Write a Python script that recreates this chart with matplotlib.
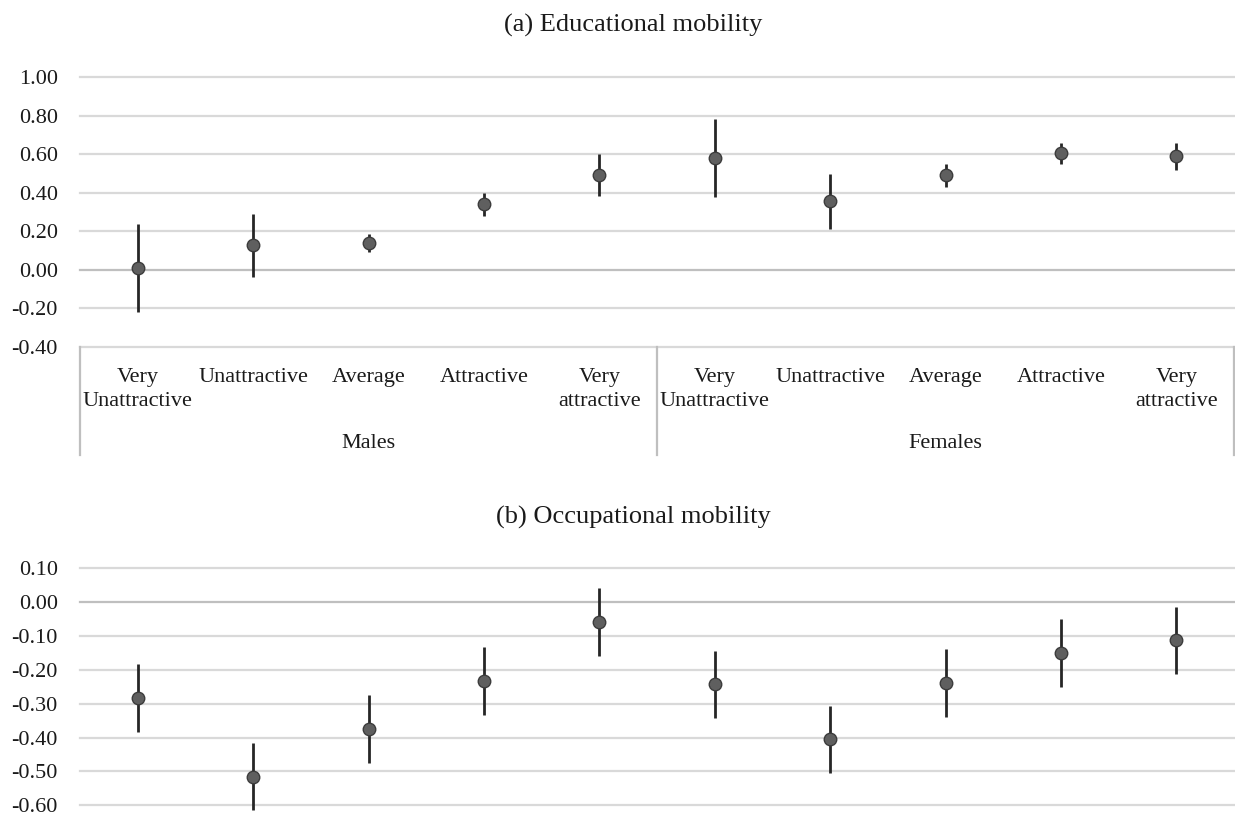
import matplotlib
matplotlib.use("Agg")
import matplotlib.pyplot as plt
import matplotlib.transforms as mtransforms

# ---------------- data ----------------
categories = ["Very\nUnattractive", "Unattractive", "Average", "Attractive", "Very\nattractive"]
groups = ["Males", "Females"]

edu_est = [0.01, 0.13, 0.14, 0.34, 0.49, 0.58, 0.355, 0.49, 0.605, 0.59]
edu_low = [-0.22, -0.035, 0.095, 0.28, 0.385, 0.378, 0.21, 0.43, 0.55, 0.52]
edu_high = [0.24, 0.29, 0.187, 0.40, 0.60, 0.78, 0.497, 0.55, 0.66, 0.66]

occ_est = [-0.284, -0.516, -0.375, -0.233, -0.058, -0.243, -0.405, -0.238, -0.149, -0.112]
occ_low = [-0.385, -0.614, -0.475, -0.333, -0.158, -0.343, -0.506, -0.338, -0.250, -0.212]
occ_high = [-0.183, -0.415, -0.275, -0.133, 0.041, -0.144, -0.306, -0.138, -0.049, -0.013]

edu_ticks = [-0.40, -0.20, 0.00, 0.20, 0.40, 0.60, 0.80, 1.00]
occ_ticks = [-0.60, -0.50, -0.40, -0.30, -0.20, -0.10, 0.00, 0.10]

title_a = "(a) Educational mobility"
title_b = "(b) Occupational mobility"

# ---------------- style ----------------
plt.rcParams['font.family'] = ['Liberation Serif', 'DejaVu Serif']
W, H = 1235, 816
fig = plt.figure(figsize=(W / 100, H / 100), dpi=100)

GRID = '#d9d9d9'
AXIS = '#bfbfbf'
MFACE = '#5f5f5f'
MEDGE = '#3c3c3c'
BAR = '#262626'
TXT = '#1a1a1a'

left_px, right_px = 80, 1234


def make_axes(top_px, bottom_px):
    return fig.add_axes([left_px / W, 1 - bottom_px / H,
                         (right_px - left_px) / W, (bottom_px - top_px) / H])


def draw_panel(ax, est, low, high, ticks, ylim):
    n = len(est)
    xs = list(range(n))
    ax.set_xlim(-0.5, n - 0.5)
    ax.set_ylim(*ylim)
    for t in ticks:
        ax.axhline(t, color=AXIS if t == 0 else GRID, lw=1.6, zorder=0, clip_on=False)
    ax.vlines(xs, low, high, color=BAR, lw=2.0, zorder=2)
    ax.plot(xs, est, 'o', ms=9, mfc=MFACE, mec=MEDGE, mew=1.0, zorder=3)
    ax.set_yticks(ticks)
    ax.set_yticklabels([f"{t:.2f}" for t in ticks], fontsize=16, color=TXT)
    ax.tick_params(axis='y', length=0, pad=16)
    for s in ax.spines.values():
        s.set_visible(False)
    ax.set_facecolor('none')


# ---------- panel (a) ----------
ax1 = make_axes(77, 347)
draw_panel(ax1, edu_est, edu_low, edu_high, edu_ticks, (-0.40, 1.00))
ncat = len(categories)
ax1.set_xticks(range(ncat * len(groups)))
ax1.set_xticklabels(categories * len(groups), fontsize=16, color=TXT)
for lbl in ax1.get_xticklabels():
    lbl.set_linespacing(1.35)
ax1.tick_params(axis='x', length=0, pad=15)

trans = mtransforms.blended_transform_factory(ax1.transData, ax1.transAxes)
for gi, g in enumerate(groups):
    ax1.text(gi * ncat + (ncat - 1) / 2, -0.357, g, transform=trans,
             ha='center', va='center', fontsize=16, color=TXT)
for xsep in [-0.5 + k * ncat for k in range(len(groups) + 1)]:
    ax1.axvline(xsep, ymin=-0.40, ymax=0, color=AXIS, lw=1.6, clip_on=False)

fig.text(633 / W, 1 - 25 / H, title_a, ha='center', va='center', fontsize=19, color=TXT)

# ---------- panel (b) ----------
ax2 = make_axes(560, 816)
draw_panel(ax2, occ_est, occ_low, occ_high, occ_ticks, (-0.632, 0.125))
ax2.set_xticks([])

fig.text(633 / W, 1 - 517 / H, title_b, ha='center', va='center', fontsize=19, color=TXT)

fig.savefig("out.png", dpi=100, facecolor='white')
